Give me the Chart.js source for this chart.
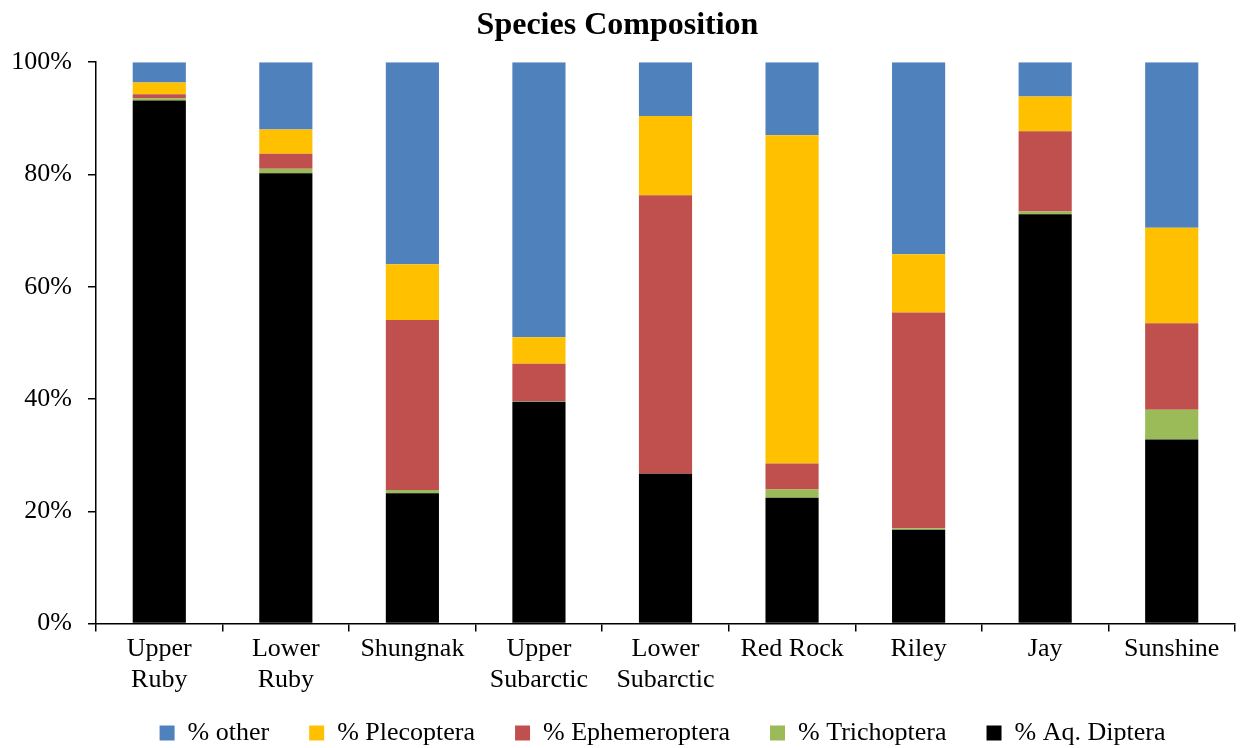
<!DOCTYPE html>
<html>
<head>
<meta charset="utf-8">
<script src="https://cdn.jsdelivr.net/npm/chart.js@4"></script>
<style>
    html, body { margin: 0; padding: 0; background: #fff; }
    #wrap { width: 1243px; height: 748px; }
</style>
</head>
<body>
<div id="wrap"><canvas id="compChart" width="1243" height="748"></canvas></div>
<script>
// Sites (x categories)
const sites = [['Upper', 'Ruby'], ['Lower', 'Ruby'], 'Shungnak', ['Upper', 'Subarctic'], ['Lower', 'Subarctic'], 'Red Rock', 'Riley', 'Jay', 'Sunshine'];

// Percent of each group per site (stacked bottom -> top)
const aqDiptera     = [93.2, 80.2, 23.2, 39.5, 26.7, 22.4, 16.7, 72.9, 32.8];
const trichoptera   = [0.4, 0.8, 0.6, 0.1, 0.0, 1.5, 0.3, 0.5, 5.3];
const ephemeroptera = [0.7, 2.7, 30.3, 6.7, 49.6, 4.6, 38.4, 14.3, 15.4];
const plecoptera    = [2.1, 4.3, 9.9, 4.7, 14.1, 58.5, 10.4, 6.2, 17.0];
const other         = [3.6, 12.0, 36.0, 49.0, 9.6, 13.0, 34.2, 6.1, 29.5];

const yTicks = [0, 20, 40, 60, 80, 100];

Chart.defaults.font.family = '"Liberation Serif", "Times New Roman", serif';
Chart.defaults.color = '#000';

// Legend sits tight under the category labels and centred on the plot area
const legendNudge = {
    id: 'legendNudge',
    beforeInit(chart) {
        const fit = chart.legend.fit;
        chart.legend.fit = function () {
            fit.call(this);
            this.height -= 26;
        };
    },
    afterLayout(chart) {
        const lg = chart.legend;
        lg.top -= 18;
        lg.height += 18;
        lg.left += 45;
        lg.right += 45;
    }
};

const ctx = document.getElementById('compChart').getContext('2d');
const compChart = new Chart(ctx, {
    type: 'bar',
    data: {
        labels: sites,
        datasets: [
            { label: '% Aq. Diptera', data: aqDiptera, backgroundColor: '#000000' },
            { label: '% Trichoptera', data: trichoptera, backgroundColor: '#9BBB59' },
            { label: '% Ephemeroptera', data: ephemeroptera, backgroundColor: '#C0504D' },
            { label: '% Plecoptera', data: plecoptera, backgroundColor: '#FFC000' },
            { label: '% other', data: other, backgroundColor: '#4F81BD' }
        ]
    },
    options: {
        responsive: false,
        animation: false,
        datasets: {
            bar: {
                barPercentage: 0.42,
                categoryPercentage: 1.0,
                borderWidth: 0
            }
        },
        layout: {
            padding: { left: 0, right: 8, top: 8, bottom: 0 }
        },
        plugins: {
            title: {
                display: true,
                text: 'Species Composition',
                font: { size: 32, weight: 'bold', lineHeight: 1.1 },
                color: '#000',
                padding: { top: 0, bottom: 19 }
            },
            legend: {
                position: 'bottom',
                reverse: true,
                labels: {
                    font: { size: 26 },
                    color: '#000',
                    boxWidth: 15,
                    boxHeight: 15,
                    padding: 40
                }
            },
            tooltip: { enabled: false }
        },
        scales: {
            x: {
                stacked: true,
                grid: {
                    drawOnChartArea: false,
                    drawTicks: true,
                    tickLength: 8,
                    color: '#000',
                    lineWidth: 1.5
                },
                border: { color: '#000', width: 1.5 },
                ticks: {
                    font: { size: 26, lineHeight: 1.2 },
                    color: '#000',
                    maxRotation: 0,
                    autoSkip: false,
                    padding: 2
                }
            },
            y: {
                stacked: true,
                min: 0,
                max: 100,
                afterBuildTicks: (axis) => {
                    axis.ticks = yTicks.map(v => ({ value: v }));
                },
                afterFit: (axis) => {
                    axis.width = 96;
                },
                grid: {
                    drawOnChartArea: false,
                    drawTicks: true,
                    tickLength: 8,
                    color: '#000',
                    lineWidth: 1.5
                },
                border: { color: '#000', width: 1.5 },
                ticks: {
                    font: { size: 26 },
                    color: '#000',
                    padding: 16,
                    callback: (v) => v + '%'
                }
            }
        }
    },
    plugins: [legendNudge]
});
</script>
</body>
</html>
